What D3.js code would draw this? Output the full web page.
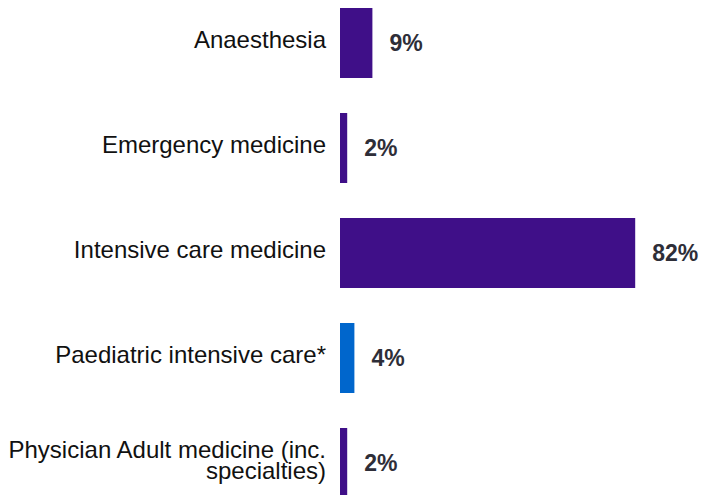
<!DOCTYPE html>
<html><head><meta charset="utf-8">
<script src="https://cdn.jsdelivr.net/npm/d3@7"></script>
<style>html,body{margin:0;padding:0;background:#fff;}svg{display:block;}</style>
</head><body>
<svg id="chart" width="702" height="495"></svg>
<script>
const categories = ["Anaesthesia","Emergency medicine","Intensive care medicine","Paediatric intensive care*","Physician Adult medicine (inc. specialties)"];
const labelLines = [["Anaesthesia"],["Emergency medicine"],["Intensive care medicine"],["Paediatric intensive care*"],["Physician Adult medicine (inc.","specialties)"]];
const values = [9, 2, 82, 4, 2];
const colors = ["#3f0f88","#3f0f88","#3f0f88","#0066cc","#3f0f88"];

const svg = d3.select("#chart");
const x = d3.scaleLinear().domain([0,100]).range([340,700]);
const y = d3.scaleBand().domain(categories).range([8,498]).paddingInner(1/3).paddingOuter(0);
const font = "'Liberation Sans', Arial, sans-serif";

svg.selectAll("rect.bar").data(categories).enter().append("rect")
  .attr("x", x(0)).attr("y", d=>y(d))
  .attr("width", (d,i)=>x(values[i])-x(0)).attr("height", y.bandwidth())
  .attr("fill", (d,i)=>colors[i]);

svg.selectAll("text.val").data(categories).enter().append("text")
  .attr("x", (d,i)=>x(values[i])+17)
  .attr("y", d=>y(d)+y.bandwidth()/2)
  .attr("dy","0.36em")
  .attr("font-family", font).attr("font-size", 23).attr("font-weight","bold")
  .attr("fill","#2e2e38")
  .text((d,i)=>values[i]+"%");

const lab = svg.selectAll("text.cat").data(categories).enter().append("text")
  .attr("text-anchor","end")
  .attr("font-family", font).attr("font-size", 24).attr("fill","#111");
lab.each(function(d,i){
  const lines = labelLines[i];
  const cy = y(d)+y.bandwidth()/2 - 3.5;
  const lh = 21;
  const t = d3.select(this);
  lines.forEach((ln,k)=>{
    t.append("tspan").attr("x",326)
      .attr("y", cy + (k-(lines.length-1)/2)*lh)
      .attr("dy","0.36em").text(ln);
  });
});
</script>
</body></html>
